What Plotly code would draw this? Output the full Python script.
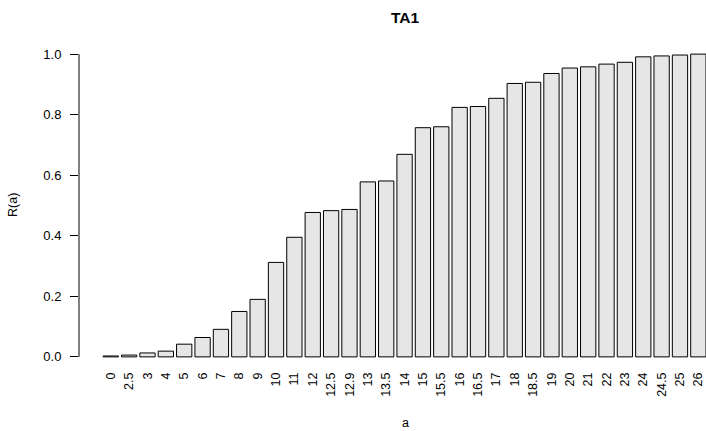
import plotly.graph_objects as go

# Age categories and cumulative proportion R(a)
categories = ["0", "2.5", "3", "4", "5", "6", "7", "8", "9", "10", "11", "12",
              "12.5", "12.9", "13", "13.5", "14", "15", "15.5", "16", "16.5",
              "17", "18", "18.5", "19", "20", "21", "22", "23", "24", "24.5",
              "25", "26"]
values = [0.003, 0.006, 0.013, 0.019, 0.042, 0.064, 0.091, 0.150, 0.190,
          0.312, 0.395, 0.477, 0.483, 0.487, 0.578, 0.581, 0.669, 0.757,
          0.760, 0.824, 0.827, 0.854, 0.903, 0.907, 0.936, 0.954, 0.958,
          0.967, 0.973, 0.991, 0.994, 0.997, 1.000]
y_ticks = [0.0, 0.2, 0.4, 0.6, 0.8, 1.0]

# barplot-style layout: bars of width 1 separated by 0.2
positions = [0.7 + 1.2 * i for i in range(len(categories))]

W, H = 706, 431
L, R, T, B = 79, 0, 42, 62
font = "Liberation Sans, Arial, Helvetica, sans-serif"

fig = go.Figure(go.Bar(
    x=positions, y=values, width=1.0,
    marker=dict(color="#E6E6E6", line=dict(color="black", width=1)),
))

fig.update_layout(
    width=W, height=H,
    margin=dict(l=L, r=R, t=T, b=B),
    plot_bgcolor="white", paper_bgcolor="white",
    showlegend=False,
    font=dict(family=font, size=12.5, color="black"),
    xaxis=dict(
        range=[-1.376, 39.6],
        tickmode="array", tickvals=positions, ticktext=categories,
        tickangle=-90, ticks="", showgrid=False, zeroline=False,
        showline=False, tickfont=dict(size=12.5),
    ),
    yaxis=dict(
        range=[-0.04, 1.04],
        tickmode="array", tickvals=y_ticks,
        ticktext=[f"{v:.1f}" for v in y_ticks],
        ticks="outside", ticklen=8, tickcolor="black", tickwidth=1,
        ticklabelstandoff=6,
        showgrid=False, zeroline=False, showline=False,
        tickfont=dict(size=13),
    ),
    shapes=[dict(type="line", xref="paper", yref="y", x0=0, x1=0,
                 y0=0, y1=1, line=dict(color="black", width=1))],
    annotations=[
        dict(text="<b>TA1</b>", xref="paper", yref="paper",
             x=(406 - L) / (W - L - R), y=(H - B - 17) / (H - T - B),
             xanchor="center", yanchor="middle", showarrow=False,
             font=dict(size=15.5)),
        dict(text="a", xref="paper", yref="paper",
             x=(406 - L) / (W - L - R), y=(H - B - 423) / (H - T - B),
             xanchor="center", yanchor="middle", showarrow=False,
             font=dict(size=12.5)),
        dict(text="R(a)", xref="paper", yref="paper",
             x=(12.5 - L) / (W - L - R), y=0.5, textangle=-90,
             xanchor="center", yanchor="middle", showarrow=False,
             font=dict(size=12.5)),
    ],
)

fig.write_html("out.html")
